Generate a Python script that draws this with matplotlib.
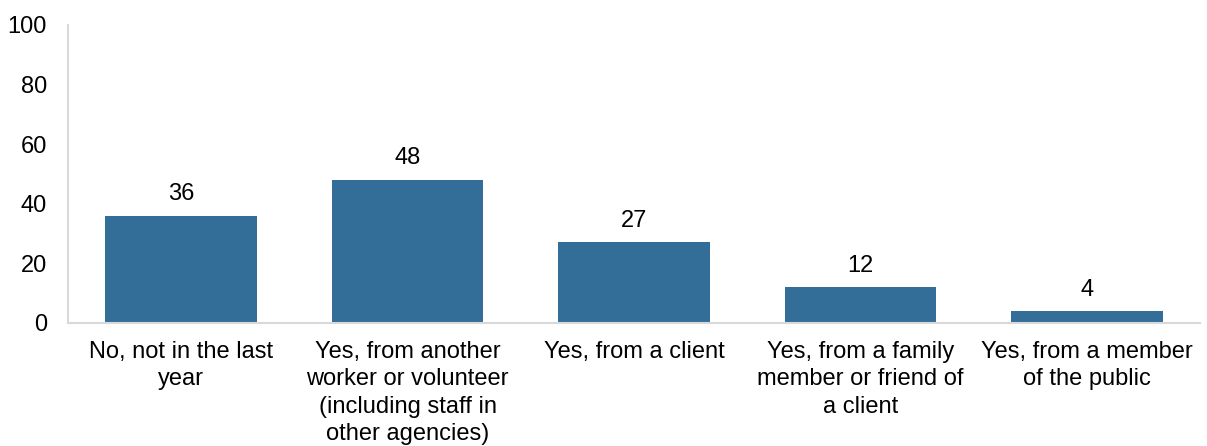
import matplotlib
matplotlib.use("Agg")
import matplotlib.pyplot as plt

categories = [
    "No, not in the last\nyear",
    "Yes, from another\nworker or volunteer\n(including staff in\nother agencies)",
    "Yes, from a client",
    "Yes, from a family\nmember or friend of\na client",
    "Yes, from a member\nof the public",
]
values = [36, 48, 27, 12, 4]
yticks = [0, 20, 40, 60, 80, 100]

plt.rcParams['font.family'] = ['Liberation Sans', 'DejaVu Sans']

fig = plt.figure(figsize=(12.07, 4.46), dpi=100)
ax = fig.add_axes([0.0563, 0.276, 0.938, 0.668])

x = list(range(len(values)))
bars = ax.bar(x, values, width=0.67, color='#336e99')
for xi, v in zip(x, values):
    ax.text(xi, v + 3.5, str(v), ha='center', va='bottom', fontsize=17, color='#000000')

ax.set_xlim(-0.5, len(values) - 0.5)
ax.set_ylim(0, 100)
ax.set_yticks(yticks)
ax.set_yticklabels([str(t) for t in yticks], fontsize=17)
ax.set_xticks(x)
ax.set_xticklabels(categories, fontsize=17, linespacing=1.32, va='top')
ax.tick_params(axis='both', length=0)
ax.tick_params(axis='y', pad=15)
ax.tick_params(axis='x', pad=13)
for s in ['top', 'right']:
    ax.spines[s].set_visible(False)
for s in ['left', 'bottom']:
    ax.spines[s].set_color('#d9d9d9')
    ax.spines[s].set_linewidth(1.5)

fig.savefig('out.png', dpi=100)
